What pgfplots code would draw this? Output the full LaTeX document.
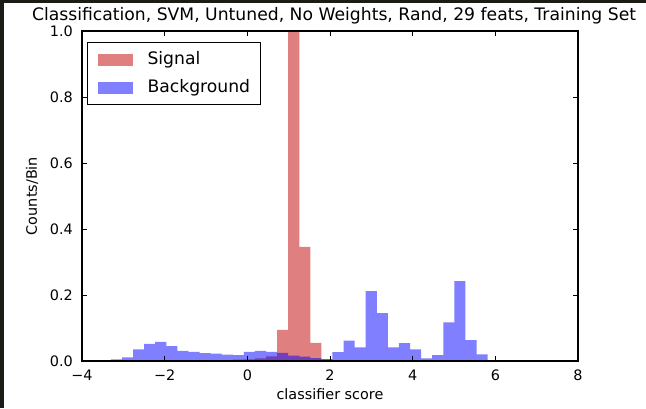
\documentclass[border=0pt]{standalone}
\usepackage{pgfplots}
\pgfplotsset{compat=1.18}
\usepackage{fontspec}
\setmainfont{DejaVu Sans}

\definecolor{sigred}{RGB}{195,0,0}
\definecolor{bkgblue}{RGB}{0,0,255}
\definecolor{frameedge}{RGB}{28,28,22}

\newcommand{\tickfont}{\fontsize{14.4bp}{17bp}\selectfont}
\newcommand{\bigfont}{\fontsize{17.2bp}{20bp}\selectfont}

\begin{document}
\begin{tikzpicture}[x=1bp,y=1bp]
% dark edge on the left and top of the canvas
\fill[frameedge] (0,0) rectangle (646,408);
\fill[white] (3.5,0) rectangle (646,404.5);
\useasboundingbox (0,0) rectangle (646,408);
\begin{axis}[
  at={(82bp,47bp)}, anchor=south west,
  scale only axis, width=496bp, height=330bp,
  xmin=-4, xmax=8, ymin=0, ymax=1,
  axis on top,
  axis line style={line width=1.1bp, black},
  tick align=inside,
  major tick length=5bp,
  tick style={line width=0.9bp, black},
  xtick={-4,-2,0,2,4,6,8},
  xticklabels={−4,−2,0,2,4,6,8},
  ytick={0,0.2,0.4,0.6,0.8,1},
  yticklabels={0.0,0.2,0.4,0.6,0.8,1.0},
  xticklabel style={font=\tickfont, anchor=base, inner sep=0pt, yshift=-19bp},
  yticklabel style={font=\tickfont, anchor=east, inner sep=0pt, xshift=-9bp},
  title={Classification, SVM, Untuned, No Weights, Rand, 29 feats, Training Set},
  title style={at={(axis description cs:0.5,1)}, anchor=base, yshift=4.5bp, xshift=4bp,
    inner sep=0pt, font=\bigfont},
  xlabel={classifier score},
  xlabel style={at={(axis description cs:0.5,-0.118)}, anchor=base, inner sep=0pt, font=\tickfont},
  ylabel={Counts/Bin},
  ylabel style={at={(axis description cs:-0.1008,0.5)}, anchor=center, inner sep=0pt, font=\tickfont},
  legend style={at={(axis description cs:0.0101,0.9667)}, anchor=north west,
    draw=black, line width=1bp, fill=white, font=\bigfont,
    inner xsep=10bp, inner ysep=9bp, row sep=11.8bp, column sep=15bp,
    nodes={inner sep=0pt, text height=12.6bp, text depth=3.6bp}},
  legend cell align=left,
]
% signal scores
\addplot[ybar interval, fill=sigred, fill opacity=0.5, draw=none,
  legend image code/.code={\fill[sigred, fill opacity=0.5] (0bp,-6bp) rectangle (35bp,6bp);}]
  coordinates {
  (-0.620,0.002) (-0.352,0.004) (-0.084,0.005) (0.184,0.008) (0.452,0.014)
  (0.720,0.094) (0.988,1.000) (1.256,0.346) (1.524,0.055) (1.792,0.005)
  (2.060,0.002) (2.328,0.002)
  };
\addlegendentry{Signal}
% background scores
\addplot[ybar interval, fill=bkgblue, fill opacity=0.5, draw=none,
  legend image code/.code={\fill[bkgblue, fill opacity=0.5] (0bp,-6bp) rectangle (35bp,6bp);}]
  coordinates {
  (-3.300,0.005) (-3.032,0.011) (-2.764,0.035) (-2.496,0.052) (-2.228,0.058)
  (-1.960,0.045) (-1.692,0.031) (-1.424,0.028) (-1.156,0.024) (-0.888,0.022)
  (-0.620,0.019) (-0.352,0.018) (-0.084,0.028) (0.184,0.031) (0.452,0.028)
  (0.720,0.025) (0.988,0.016) (1.256,0.013) (1.524,0.009) (1.792,0.006)
  (2.060,0.027) (2.328,0.062) (2.596,0.041) (2.864,0.212) (3.132,0.145)
  (3.400,0.041) (3.668,0.054) (3.936,0.035) (4.204,0.008) (4.472,0.018)
  (4.740,0.117) (5.008,0.242) (5.276,0.063) (5.544,0.020) (5.812,0.020)
  };
\addlegendentry{Background}
\end{axis}
\end{tikzpicture}
\end{document}
